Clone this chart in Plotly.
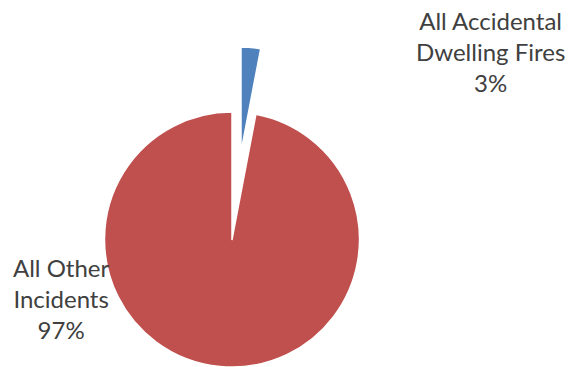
import plotly.graph_objects as go

labels = ["All Accidental Dwelling Fires", "All Other Incidents"]
label_lines = ["All Accidental<br>Dwelling Fires", "All Other<br>Incidents"]
values = [3, 97]
colors = ["#4F81BD", "#C0504D"]
clear = "rgba(0,0,0,0)"

W, H = 568, 367

total = sum(values)
pcts = [round(v / total * 100) for v in values]


def dom(cx, cy, r):
    return dict(x=[(cx - r) / W, (cx + r) / W], y=[max(0, (H - cy - r) / H), (H - cy + r) / H])


fig = go.Figure()

# Main pie (red slice, gap where the exploded slice was)
fig.add_trace(go.Pie(
    labels=labels, values=values, sort=False, direction="clockwise", rotation=0,
    marker=dict(colors=[clear, colors[1]], line=dict(color=[clear, "white"], width=1.5)),
    textinfo="none", hoverinfo="skip", showlegend=False,
    domain=dom(232, 240, 128),
))

# Exploded slice (blue)
fig.add_trace(go.Pie(
    labels=labels, values=values, sort=False, direction="clockwise", rotation=0,
    marker=dict(colors=[colors[0], clear], line=dict(color=["white", clear], width=1.5)),
    textinfo="none", hoverinfo="skip", showlegend=False,
    domain=dom(241, 152, 105),
))

label_pos = [(490, 52), (61, 298)]
for (x, y), txt, p in zip(label_pos, label_lines, pcts):
    fig.add_annotation(
        x=x / W, y=1 - y / H, xref="paper", yref="paper",
        xanchor="center", yanchor="middle",
        text=f"{txt}<br>{p}%", showarrow=False, align="center",
        font=dict(family="Lato", size=24, color="#404040"),
    )

fig.update_layout(
    width=W, height=H, margin=dict(l=0, r=0, t=0, b=0),
    paper_bgcolor="white", plot_bgcolor="white",
)

fig.write_html(
    "out.html",
    config={"displayModeBar": False},
    post_script="document.body.style.margin='0';document.body.style.overflow='hidden';",
)
